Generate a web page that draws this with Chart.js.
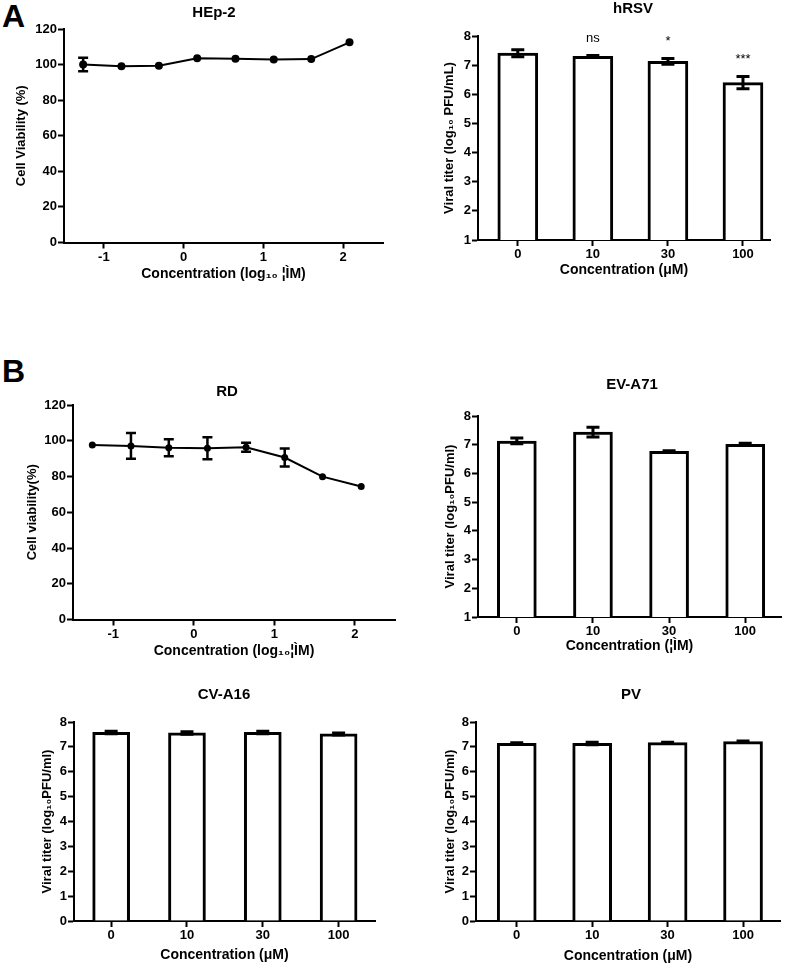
<!DOCTYPE html>
<html>
<head>
<meta charset="utf-8">
<title>Cell viability and viral titers</title>
<script src="https://cdn.jsdelivr.net/npm/chart.js@4.4.1/dist/chart.umd.min.js"></script>
<style>
    html, body { margin: 0; padding: 0; background: #fff; }
    #page { position: relative; width: 787px; height: 964px; overflow: hidden; }
    #page canvas { position: absolute; left: 0; top: 0; }
    .letter { position: absolute; left: 2px; font: bold 32px/32px "Liberation Sans", Arial, sans-serif; color: #000; }
</style>
</head>
<body>
<div id="page">
    <div class="letter" style="top:0px">A</div>
    <div class="letter" style="top:355px">B</div>
    <canvas id="hep2" width="787" height="964"></canvas>
    <canvas id="hrsv" width="787" height="964"></canvas>
    <canvas id="rd" width="787" height="964"></canvas>
    <canvas id="ev71" width="787" height="964"></canvas>
    <canvas id="cva16" width="787" height="964"></canvas>
    <canvas id="pv" width="787" height="964"></canvas>
</div>
<script>
// Donnees
const logConc = [-1.26, -0.78, -0.31, 0.17, 0.65, 1.13, 1.60, 2.08];
const logTicks = [-1, 0, 1, 2];

const hep2Viab = [100.1, 99.0, 99.3, 103.5, 103.3, 102.9, 103.1, 112.5];
const hep2Err  = [3.8, 0.8, 0.8, 1.0, 0.8, 0.8, 0.8, 1.0];

const rdViab = [97.6, 97.1, 96.1, 95.8, 96.4, 90.6, 79.9, 74.4];
const rdErr  = [1.0, 7.2, 4.8, 6.2, 2.5, 5.0, 1.0, 1.0];

const concLabels = ['0', '10', '30', '100'];
const concIndex = [0, 1, 2, 3];

const hrsvTiter = [7.41, 7.30, 7.13, 6.40];
const hrsvErr   = [0.12, 0.03, 0.10, 0.21];
const hrsvSig   = ['', 'ns', '*', '***'];

const ev71Titer = [7.13, 7.44, 6.77, 7.01];
const ev71Err   = [0.10, 0.17, 0.02, 0.04];

const cva16Titer = [7.58, 7.56, 7.58, 7.52];
const cva16Err   = [0.05, 0.05, 0.05, 0.04];

const pvTiter = [7.14, 7.14, 7.17, 7.21];
const pvErr   = [0.03, 0.05, 0.02, 0.03];

const PAGE_W = 787, PAGE_H = 964;
const FONT = '"Liberation Sans", Arial, Helvetica, sans-serif';

Chart.defaults.font.family = FONT;
Chart.defaults.color = '#000';

// Titre du panneau, dessine a une position donnee
const panelTitle = {
    id: 'panelTitle',
    afterDraw(chart, args, opts) {
        const ctx = chart.ctx;
        ctx.save();
        ctx.font = 'bold 15px ' + FONT;
        ctx.fillStyle = '#000';
        ctx.textAlign = 'center';
        ctx.textBaseline = 'middle';
        ctx.fillText(opts.text, opts.x, opts.y);
        ctx.restore();
    }
};

// Barres d'erreur (moyenne +/- erreur) a partir des echelles
const errorBars = {
    id: 'errorBars',
    afterDatasetsDraw(chart, args, opts) {
        const ds = chart.data.datasets[0];
        if (!ds.errors) return;
        const meta = chart.getDatasetMeta(0);
        const yScale = chart.scales.y;
        const ctx = chart.ctx;
        ctx.save();
        ctx.strokeStyle = '#000';
        ctx.lineWidth = opts.lineWidth;
        meta.data.forEach((el, i) => {
            const v = ds.data[i].y;
            const e = ds.errors[i];
            const top = yScale.getPixelForValue(v + e);
            const bot = yScale.getPixelForValue(v - e);
            if ((bot - top) / 2 < opts.minPx) return;
            const x = el.x;
            const half = opts.capWidth / 2;
            ctx.beginPath();
            ctx.moveTo(x, top); ctx.lineTo(x, bot);
            ctx.moveTo(x - half, top); ctx.lineTo(x + half, top);
            ctx.moveTo(x - half, bot); ctx.lineTo(x + half, bot);
            ctx.stroke();
        });
        ctx.restore();

        // etiquettes de significativite
        if (ds.sig) {
            ctx.save();
            ctx.font = '13px ' + FONT;
            ctx.fillStyle = '#000';
            ctx.textAlign = 'center';
            ctx.textBaseline = 'middle';
            meta.data.forEach((el, i) => {
                if (!ds.sig[i]) return;
                const top = yScale.getPixelForValue(ds.data[i].y + ds.errors[i]);
                ctx.fillText(ds.sig[i], el.x, top - 17);
            });
            ctx.restore();
        }
    }
};

function axisLook() {
    return {
        grid: { display: true, drawOnChartArea: false, drawTicks: true, tickLength: 6, tickWidth: 2, tickColor: '#000', offset: false },
        border: { display: true, color: '#000', width: 2 }
    };
}

function makeChart(canvasId, spec, type, dataset) {
    const a = spec.area;
    const yLh = 13 * 1.2, xLh = 14 * 1.2;
    const padLeft = spec.yTitleX - yLh / 2;
    const yW = a.left - padLeft;
    const xH = spec.xTitleY - a.bottom + xLh / 2;

    return new Chart(document.getElementById(canvasId), {
        type: type,
        data: { datasets: [dataset] },
        options: {
            responsive: false,
            animation: false,
            layout: {
                padding: { left: padLeft, top: a.top, right: PAGE_W - a.right, bottom: PAGE_H - a.bottom - xH }
            },
            plugins: {
                legend: { display: false },
                tooltip: { enabled: false },
                panelTitle: { text: spec.title, x: spec.titleX, y: spec.titleY },
                errorBars: spec.err
            },
            scales: {
                x: {
                    type: 'linear',
                    min: spec.xMin,
                    max: spec.xMax,
                    offset: false,
                    ...axisLook(),
                    afterBuildTicks: s => { s.ticks = spec.xTicks.map(v => ({ value: v })); },
                    afterFit: s => { s.height = xH; },
                    ticks: {
                        color: '#000', padding: 1, maxRotation: 0, autoSkip: false,
                        font: { size: 13, weight: 'bold' },
                        callback: spec.xLabel
                    },
                    title: { display: true, text: spec.xTitle, color: '#000', padding: 0, font: { size: 14, weight: 'bold' } }
                },
                y: {
                    min: spec.yMin,
                    max: spec.yMax,
                    ...axisLook(),
                    afterFit: s => { s.width = yW; },
                    ticks: { stepSize: spec.yStep, color: '#000', padding: 1, font: { size: 13, weight: 'bold' } },
                    title: { display: true, text: spec.yTitle, color: '#000', padding: 0, font: { size: 13, weight: 'bold' } }
                }
            }
        },
        plugins: [panelTitle, errorBars]
    });
}

function lineDataset(xs, ys, errs, radius) {
    return {
        data: xs.map((x, i) => ({ x: x, y: ys[i] })),
        errors: errs,
        borderColor: '#000',
        borderWidth: 2,
        backgroundColor: '#000',
        pointRadius: radius,
        pointBackgroundColor: '#000',
        pointBorderWidth: 0,
        tension: 0,
        fill: false
    };
}

function barDataset(values, errs, width, sig) {
    return {
        data: concIndex.map((x, i) => ({ x: x, y: values[i] })),
        errors: errs,
        sig: sig,
        backgroundColor: '#fff',
        borderColor: '#000',
        borderWidth: 3,
        borderSkipped: 'start',
        barThickness: width
    };
}

const logLabel = v => String(v);
const concLabel = v => concLabels[v];
const lineErr = { lineWidth: 2.5, capWidth: 10, minPx: 4 };
const barErr = { lineWidth: 3, capWidth: 13, minPx: 0 };

// A - HEp-2
makeChart('hep2', {
    area: { left: 64, top: 29, right: 383, bottom: 242.5 },
    title: 'HEp-2', titleX: 214, titleY: 13,
    xMin: -1.5, xMax: 2.5, xTicks: logTicks, xLabel: logLabel,
    yMin: 0, yMax: 120, yStep: 20,
    xTitle: 'Concentration (log\u2081\u2080 \u00a6\u00ccM)', xTitleY: 274,
    yTitle: 'Cell Viability (%)', yTitleX: 21.5,
    err: lineErr
}, 'line', lineDataset(logConc, hep2Viab, hep2Err, 4));

// A - hRSV
makeChart('hrsv', {
    area: { left: 478, top: 36, right: 770, bottom: 240 },
    title: 'hRSV', titleX: 633, titleY: 9,
    xMin: -0.53, xMax: 3.36, xTicks: concIndex, xLabel: concLabel,
    yMin: 1, yMax: 8, yStep: 1,
    xTitle: 'Concentration (\u03bcM)', xTitleY: 270,
    yTitle: 'Viral titer (log\u2081\u2080 PFU/mL)', yTitleX: 449.5,
    err: barErr
}, 'bar', barDataset(hrsvTiter, hrsvErr, 40, hrsvSig));

// B - RD
makeChart('rd', {
    area: { left: 73, top: 405, right: 395, bottom: 619.5 },
    title: 'RD', titleX: 227, titleY: 392,
    xMin: -1.5, xMax: 2.5, xTicks: logTicks, xLabel: logLabel,
    yMin: 0, yMax: 120, yStep: 20,
    xTitle: 'Concentration (log\u2081\u2080\u00a6\u00ccM)', xTitleY: 651,
    yTitle: 'Cell viability(%)', yTitleX: 32.5,
    err: Object.assign({}, lineErr, { minPx: 3.5 })
}, 'line', lineDataset(logConc, rdViab, rdErr, 3.5));

// B - EV-A71
makeChart('ev71', {
    area: { left: 478, top: 416, right: 781, bottom: 617 },
    title: 'EV-A71', titleX: 632, titleY: 385,
    xMin: -0.51, xMax: 3.47, xTicks: concIndex, xLabel: concLabel,
    yMin: 1, yMax: 8, yStep: 1,
    xTitle: 'Concentration (\u00a6\u00ccM)', xTitleY: 646,
    yTitle: 'Viral titer (log\u2081\u2080PFU/ml)', yTitleX: 450,
    err: barErr
}, 'bar', barDataset(ev71Titer, ev71Err, 39));

// CV-A16
makeChart('cva16', {
    area: { left: 74, top: 722, right: 375, bottom: 921 },
    title: 'CV-A16', titleX: 224, titleY: 694.5,
    xMin: -0.49, xMax: 3.48, xTicks: concIndex, xLabel: concLabel,
    yMin: 0, yMax: 8, yStep: 1,
    xTitle: 'Concentration (\u03bcM)', xTitleY: 955,
    yTitle: 'Viral titer (log\u2081\u2080PFU/ml)', yTitleX: 47,
    err: barErr
}, 'bar', barDataset(cva16Titer, cva16Err, 37));

// PV
makeChart('pv', {
    area: { left: 476, top: 722, right: 780, bottom: 921 },
    title: 'PV', titleX: 631, titleY: 695,
    xMin: -0.54, xMax: 3.49, xTicks: concIndex, xLabel: concLabel,
    yMin: 0, yMax: 8, yStep: 1,
    xTitle: 'Concentration (\u03bcM)', xTitleY: 956,
    yTitle: 'Viral titer (log\u2081\u2080PFU/ml)', yTitleX: 450.5,
    err: barErr
}, 'bar', barDataset(pvTiter, pvErr, 39));
</script>
</body>
</html>
